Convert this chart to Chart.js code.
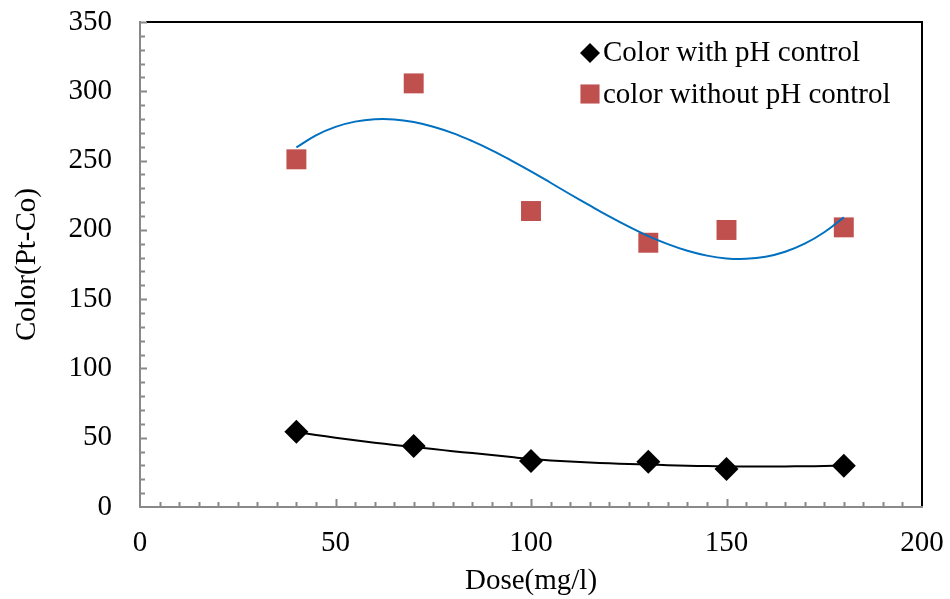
<!DOCTYPE html>
<html>
<head>
<meta charset="utf-8">
<script src="https://cdn.jsdelivr.net/npm/chart.js@4.4.0/dist/chart.umd.min.js"></script>
<style>
  body { margin: 0; background: #fff; }
  #wrap { width: 950px; height: 599px; position: relative; }
</style>
</head>
<body>
<div id="wrap"><canvas id="myChart"></canvas></div>
<script>
// measured points
const doses = [40, 70, 100, 130, 150, 180];
const withPH = [54.3, 44.0, 33.2, 32.7, 27.4, 29.8];
const withoutPH = [250.9, 305.7, 213.6, 190.7, 199.9, 201.8];

// trendlines, every 5 mg/l
const trendDoses = [40, 45, 50, 55, 60, 65, 70, 75, 80, 85, 90, 95, 100, 105, 110,
  115, 120, 125, 130, 135, 140, 145, 150, 155, 160, 165, 170, 175, 180];
const trendWithPH = [54.1, 52.0, 50.0, 48.1, 46.4, 44.8, 43.3, 41.8, 40.3, 38.9, 37.5, 36.0, 34.6, 33.6, 32.8,
  32.1, 31.5, 31.0, 30.6, 30.2, 29.8, 29.5, 29.3, 29.2, 29.2, 29.3, 29.4, 29.6, 29.9];
const trendWithoutPH = [259.5, 268.2, 274.3, 278.1, 279.8, 279.7, 277.8, 274.4, 269.8, 264.0, 257.4, 250.0, 242.2, 234.0, 225.7,
  217.6, 209.7, 202.3, 195.5, 189.7, 184.9, 181.4, 179.4, 179.1, 180.6, 184.2, 190.0, 198.3, 209.0];

const xTicks = [0, 50, 100, 150, 200];
const yTicks = [0, 50, 100, 150, 200, 250, 300, 350];
const xMinorStep = 5;
const yMinorStep = 10;

const legendLabels = ['Color with pH control', 'color without pH control'];

const FONT = { family: '"Liberation Serif", "Times New Roman", serif', size: 29 };
const AXIS_GREY = '#898989';
const RED = '#C0504D';
const BLUE = '#0070C0';

const toPts = (xs, ys) => xs.map((x, i) => ({ x: x, y: ys[i] }));

// inward minor/major ticks, black top/right frame and the in-plot legend
const framePlugin = {
  id: 'frame',
  afterDraw(chart) {
    const { ctx, chartArea: a, scales: { x, y } } = chart;
    ctx.save();
    ctx.strokeStyle = '#000';
    ctx.lineWidth = 2;
    ctx.beginPath();
    ctx.moveTo(a.left + 6, a.top);
    ctx.lineTo(a.right, a.top);
    ctx.lineTo(a.right, a.bottom - 1);
    ctx.stroke();

    ctx.strokeStyle = AXIS_GREY;
    ctx.lineWidth = 2;
    ctx.beginPath();
    for (let v = x.min + xMinorStep; v < x.max; v += xMinorStep) {
      const px = Math.round(x.getPixelForValue(v)) + 0.5;
      const len = xTicks.includes(v) ? 8 : 5;
      ctx.moveTo(px, a.bottom);
      ctx.lineTo(px, a.bottom - len);
    }
    for (let v = y.min + yMinorStep; v <= y.max; v += yMinorStep) {
      const py = Math.round(y.getPixelForValue(v)) + 0.5;
      const len = yTicks.includes(v) ? 7 : 5;
      ctx.moveTo(a.left, py);
      ctx.lineTo(a.left + len, py);
    }
    ctx.stroke();

    // legend
    const rows = [
      { ds: chart.data.datasets[2], y: 53, r: 10 },
      { ds: chart.data.datasets[3], y: 95, r: 13.5 }
    ];
    ctx.font = FONT.size + 'px ' + FONT.family;
    ctx.textBaseline = 'middle';
    ctx.textAlign = 'left';
    rows.forEach((row, i) => {
      ctx.fillStyle = row.ds.backgroundColor;
      ctx.strokeStyle = row.ds.backgroundColor;
      Chart.helpers.drawPoint(ctx, {
        pointStyle: row.ds.pointStyle,
        radius: row.r,
        rotation: 0,
        borderWidth: 0
      }, 590, i === 0 ? 53 : 94);
      ctx.fillStyle = '#000';
      ctx.fillText(legendLabels[i], 603, row.y);
    });
    ctx.restore();
  }
};

new Chart(document.getElementById('myChart'), {
  type: 'scatter',
  data: {
    datasets: [
      {
        label: 'trend with pH',
        data: toPts(trendDoses, trendWithPH),
        showLine: true,
        borderColor: '#000',
        borderWidth: 2,
        pointRadius: 0,
        tension: 0.4
      },
      {
        label: 'trend without pH',
        data: toPts(trendDoses, trendWithoutPH),
        showLine: true,
        borderColor: BLUE,
        borderWidth: 2,
        pointRadius: 0,
        tension: 0.4
      },
      {
        label: legendLabels[0],
        data: toPts(doses, withPH),
        pointStyle: 'rectRot',
        pointRadius: 12,
        backgroundColor: '#000',
        borderColor: '#000',
        borderWidth: 0
      },
      {
        label: legendLabels[1],
        data: toPts(doses, withoutPH),
        pointStyle: 'rect',
        pointRadius: 14.1,
        backgroundColor: RED,
        borderColor: RED,
        borderWidth: 0
      }
    ]
  },
  options: {
    responsive: true,
    maintainAspectRatio: false,
    animation: false,
    layout: { padding: { left: 0, right: 28, top: 22, bottom: 0 } },
    plugins: {
      legend: { display: false },
      tooltip: { enabled: false }
    },
    scales: {
      x: {
        type: 'linear',
        min: 0,
        max: 200,
        afterBuildTicks: axis => { axis.ticks = xTicks.map(v => ({ value: v })); },
        afterFit: axis => { axis.height = 92; axis.paddingLeft = 0; axis.paddingRight = 0; },
        grid: { display: false, drawTicks: false },
        border: { display: true, color: AXIS_GREY, width: 2 },
        ticks: { color: '#000', font: FONT, padding: 19, maxRotation: 0 },
        title: { display: true, text: 'Dose(mg/l)', color: '#000', font: FONT, padding: { top: 2, bottom: 0 } }
      },
      y: {
        type: 'linear',
        min: 0,
        max: 350,
        afterBuildTicks: axis => { axis.ticks = yTicks.map(v => ({ value: v })); },
        afterFit: axis => { axis.width = 140; axis.paddingTop = 0; axis.paddingBottom = 0; },
        grid: { display: false, drawTicks: false },
        border: { display: true, color: AXIS_GREY, width: 2 },
        ticks: { color: '#000', font: FONT, padding: 28 },
        title: { display: true, text: 'Color(Pt-Co)', color: '#000', font: FONT, padding: { top: 10, bottom: 0 } }
      }
    }
  },
  plugins: [framePlugin]
});
</script>
</body>
</html>
